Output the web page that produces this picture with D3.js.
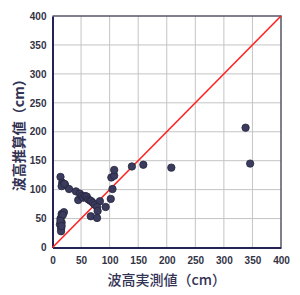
<!DOCTYPE html>
<html>
<head>
<meta charset="utf-8">
<script src="https://cdn.jsdelivr.net/npm/d3@7"></script>
<style>
  body { margin: 0; background: #fff; }
  .tick text { font-family: "Liberation Sans", Arial, sans-serif; font-size: 10px; font-weight: bold; fill: #333344; }
  .title { font-family: "Noto Sans CJK JP", sans-serif; fill: #333355; }
</style>
</head>
<body>
<div id="chart"></div>
<script>
const ticks = [0, 50, 100, 150, 200, 250, 300, 350, 400];

// measured wave height (cm)
const measured = [14, 17, 19, 22, 16, 21, 29, 41, 45, 48, 51, 54, 57, 60, 63, 66, 68, 71, 74, 83, 78, 79, 67, 78, 93, 102, 105, 103, 108, 108, 139, 159, 208, 338, 346,
  14, 16, 20, 18, 13, 16, 15, 15, 14, 16];
// estimated wave height (cm)
const estimated = [122, 112, 110, 108, 106, 110, 101, 97, 82, 93, 89, 86, 89, 88, 83, 81, 80, 77, 74, 80, 70, 63, 54, 51, 70, 84, 101, 121, 124, 134, 140, 143, 138, 207, 145,
  50, 58, 61, 56, 40, 43, 33, 28, 46, 37];

const width = 300, height = 295;
const margin = {top: 16, right: 19, bottom: 47.5, left: 52.5};

const svg = d3.select('#chart').append('svg')
  .attr('width', width)
  .attr('height', height);

const x = d3.scaleLinear().domain([0, 400]).range([margin.left, width - margin.right]);
const y = d3.scaleLinear().domain([0, 400]).range([height - margin.bottom, margin.top]);

// grid
svg.append('g').selectAll('line.gx').data(ticks.slice(1, -1)).enter().append('line')
  .attr('x1', d => x(d)).attr('x2', d => x(d))
  .attr('y1', y(0)).attr('y2', y(400))
  .attr('stroke', '#c4c4c4').attr('stroke-width', 1);
svg.append('g').selectAll('line.gy').data(ticks.slice(1, -1)).enter().append('line')
  .attr('y1', d => y(d)).attr('y2', d => y(d))
  .attr('x1', x(0)).attr('x2', x(400))
  .attr('stroke', '#c4c4c4').attr('stroke-width', 1);

// top/right frame
svg.append('path')
  .attr('d', `M${x(0)},${y(400)}H${x(400)}V${y(0)}`)
  .attr('fill', 'none').attr('stroke', '#55556a').attr('stroke-width', 1.5);

// axes
let xAxis = svg.append('g')
  .attr('transform', `translate(0, ${y(0)})`)
  .call(d3.axisBottom(x).tickValues(ticks).tickSize(0).tickPadding(9));
let yAxis = svg.append('g')
  .attr('transform', `translate(${x(0)}, 0)`)
  .call(d3.axisLeft(y).tickValues(ticks).tickSize(0).tickPadding(6));
[xAxis, yAxis].forEach(a => a.select('.domain').attr('stroke', '#222255').attr('stroke-width', 2));

// 1:1 line
svg.append('line')
  .attr('x1', x(0)).attr('y1', y(0))
  .attr('x2', x(400)).attr('y2', y(400))
  .attr('stroke', '#ff2222').attr('stroke-width', 1.6);

// points
svg.append('g').selectAll('circle').data(measured).enter().append('circle')
  .attr('cx', d => x(d))
  .attr('cy', (d, i) => y(estimated[i]))
  .attr('r', 3.7)
  .attr('fill', '#3b3b5e')
  .attr('stroke', '#26263f')
  .attr('stroke-width', 0.8);

// titles
svg.append('text').classed('title', true)
  .attr('x', (x(0) + x(400)) / 2).attr('y', 285)
  .attr('text-anchor', 'middle')
  .style('font-size', '14px').style('font-weight', '500')
  .text('波高実測値（cm）');

svg.append('text').classed('title', true)
  .attr('transform', `translate(24, ${(y(0) + y(400)) / 2}) rotate(-90)`)
  .attr('text-anchor', 'middle')
  .style('font-size', '14px').style('font-weight', 'bold')
  .text('波高推算値（cm）');
</script>
</body>
</html>
